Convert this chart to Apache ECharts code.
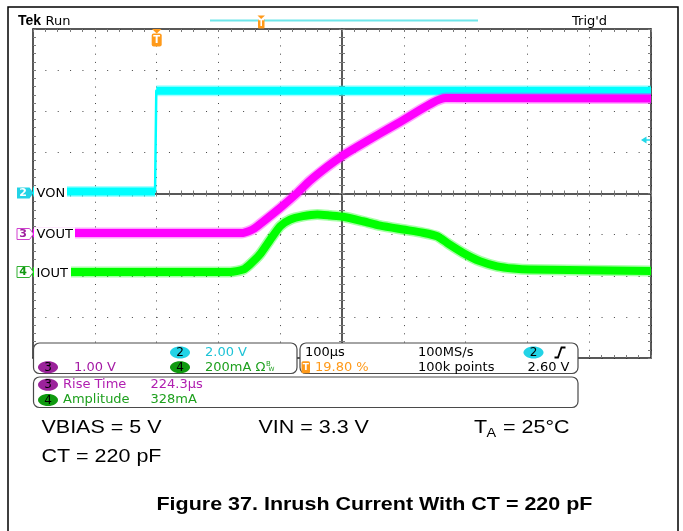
<!DOCTYPE html>
<html><head><meta charset="utf-8">
<script src="https://cdn.jsdelivr.net/npm/echarts@6/dist/echarts.min.js"></script>
<style>html,body{margin:0;padding:0;background:#fff}#c{width:683px;height:531px}</style>
</head><body><div id="c"></div>
<script>
// ---------------- data ----------------
const timePerDiv = 100;      // µs / div
const triggerPct = 19.8;     // trigger position, % of record (10 div)
// CH2  VON (V)
const vonTime  = [-198, -0.5, 1.5, 802];
const vonVolts = [0.1, 0.1, 5.0, 5.0];
// CH3  VOUT (V)
const voutTime  = [-198, 140, 152, 161, 174, 202, 228, 250, 278, 302, 326, 359, 396, 428, 449, 461, 470, 802];
const voutVolts = [0, 0, 0.05, 0.12, 0.27, 0.61, 0.95, 1.27, 1.61, 1.87, 2.09, 2.38, 2.70, 2.99, 3.17, 3.25, 3.28, 3.27];
// CH4  IOUT (mA)
const ioutTime = [-198, 121, 142, 153, 169, 186, 202, 218, 239, 262, 283, 304, 336, 364, 401, 433, 456, 472, 498, 525, 553, 579, 606, 802];
const ioutmA   = [0, 0, 12, 37, 85, 158, 223, 255, 272, 280, 275, 269, 247, 226, 207, 191, 174, 142, 93, 53, 28, 17, 12, 5];
// channel vertical scale (units / div) and position (div)
const chScale = { von: 2, vout: 1, iout: 200 };
const chPos   = { von: 0, vout: -0.96, iout: -1.91 };
// readouts
const readouts = { ch2: '2.00 V', ch3: '1.00 V', ch4: '200mA', tb: '100µs', trig: '19.80 %',
  rate: '100MS/s', pts: '100k points', level: '2.60 V', rise: '224.3µs', amp: '328mA' };

// ---------------- helpers ----------------
const toDiv = t => t / timePerDiv + triggerPct / 10;
const mk = (ts, vs, ch) => ts.map((t, i) => [toDiv(t), vs[i] / chScale[ch] + chPos[ch]]);
const vonData = mk(vonTime, vonVolts, 'von');
const voutData = mk(voutTime, voutVolts, 'vout');
const ioutData = mk(ioutTime, ioutmA, 'iout');
// noisy band is not drawn on the very steep step edge
function bandOf(d) {
  const out = [d[0]];
  for (let i = 1; i < d.length; i++) {
    if (Math.abs(d[i][1] - d[i - 1][1]) > 1 && (d[i][0] - d[i - 1][0]) < 0.05) out.push(null);
    out.push(d[i]);
  }
  return out;
}
function ls(data, color, width, opacity, z, smooth) {
  return { type: 'line', data, xAxisIndex: 0, yAxisIndex: 0, showSymbol: false, symbol: 'none',
    silent: true, animation: false, connectNulls: false, z,
    smooth: smooth || false,
    lineStyle: { color, width, opacity, cap: 'butt', join: 'round' } };
}

const tickStyle = { color: '#7a7a7a', width: 1 };
const lineCol = '#222';
function ax(dim, position, offset, inside, showLine, split) {
  const isX = dim === 'x';
  return {
    type: 'value', min: isX ? 0 : -4, max: isX ? 10 : 4, interval: 1,
    position, offset,
    axisLine: { show: showLine, onZero: false, lineStyle: { color: lineCol, width: 1.5 } },
    axisTick: { show: true, inside, length: 3, lineStyle: tickStyle },
    minorTick: { show: true, splitNumber: 5, length: 3, lineStyle: tickStyle },
    axisLabel: { show: false },
    splitLine: split ? { show: true, lineStyle: { color: '#444', width: 1, type: isX ? [1, 7.225] : [1, 11.36] } } : { show: false },
    minorSplitLine: { show: false },
    axisPointer: { show: false }
  };
}

const SF = '"DejaVu Sans", sans-serif';
function T(x, y, s, fill, o) {
  o = o || {};
  return { type: 'text', x, y, z: 120, silent: true, scaleX: o.sx || 1,
    style: { text: s, fill, font: (o.w || 'normal') + ' ' + (o.size || 13) + 'px ' + (o.fam || SF),
      align: o.align || 'left', verticalAlign: 'middle' } };
}
function badge(cx, cy, num, fill, tcol) {
  return [
    { type: 'ellipse', z: 115, silent: true, shape: { cx, cy, rx: 10, ry: 6 }, style: { fill } },
    T(cx, cy + 0.5, num, tcol || '#000', { align: 'center', size: 12 })
  ];
}
function box(x, y, w, h) {
  return { type: 'rect', z: 110, silent: true, shape: { x, y, width: w, height: h, r: 6 },
    style: { fill: '#fff', stroke: '#4a4a4a', lineWidth: 1.2 } };
}
function tag(cy, num, fill, stroke, tcol) {
  return [
    { type: 'polygon', z: 115, silent: true,
      shape: { points: [[17, cy - 5.5], [29.5, cy - 5.5], [33.5, cy], [29.5, cy + 5.5], [17, cy + 5.5]] },
      style: { fill, stroke: stroke || null, lineWidth: 1 } },
    T(23, cy + 0.5, num, tcol, { align: 'center', size: 11, w: 'bold' })
  ];
}
function labelBg(x, cy, w) {
  return { type: 'rect', z: 112, silent: true, shape: { x, y: cy - 7, width: w, height: 14 }, style: { fill: '#fff' } };
}

const orange = '#ff9a1a';
const BF = '"Liberation Sans", Arial, sans-serif';
const SX = 1.155;

const graphic = [
  // outer frame
  { type: 'rect', z: 5, silent: true, shape: { x: 8, y: 7, width: 670, height: 600 }, style: { fill: null, stroke: '#000', lineWidth: 1.5 } },
  // header
  T(18, 21.5, 'Tek', '#000', { w: 'bold', size: 14, fam: BF }),
  T(45.5, 21.5, 'Run', '#000'),
  T(572, 21.5, "Trig'd", '#000'),
  { type: 'line', z: 110, silent: true, shape: { x1: 210, y1: 20.5, x2: 478, y2: 20.5 }, style: { stroke: '#6fe6ea', lineWidth: 2 } },
  { type: 'polygon', z: 115, silent: true, shape: { points: [[257.5, 15.5], [265, 15.5], [261.2, 19]] }, style: { fill: orange } },
  { type: 'rect', z: 115, silent: true, shape: { x: 258, y: 19, width: 6.5, height: 9.5, r: 1 }, style: { fill: orange } },
  T(261.3, 24, 'T', '#fff', { align: 'center', size: 8, w: 'bold' }),
  // trigger position marker in graticule
  { type: 'polygon', z: 115, silent: true, shape: { points: [[152, 29], [161.5, 29], [156.7, 33.5]] }, style: { fill: orange } },
  { type: 'rect', z: 115, silent: true, shape: { x: 151.7, y: 33.5, width: 10, height: 13, r: 2 }, style: { fill: orange } },
  T(156.7, 40.5, 'T', '#fff', { align: 'center', size: 10, w: 'bold' }),
  // trigger level arrow (right)
  { type: 'polygon', z: 115, silent: true, shape: { points: [[641, 140], [646.5, 136.5], [646.5, 143.5]] }, style: { fill: '#22d8e8' } },
  { type: 'line', z: 115, silent: true, shape: { x1: 646, y1: 140, x2: 650, y2: 140 }, style: { stroke: '#22d8e8', lineWidth: 1.5 } },
  // channel tags & labels
  labelBg(34, 193, 33), labelBg(34, 234.5, 41), labelBg(34, 273, 37),
  ...tag(193, '2', '#22d3e6', null, '#fff'),
  ...tag(234, '3', '#fff', '#d040d0', '#a020a0'),
  ...tag(272, '4', '#fff', '#30b030', '#119911'),
  T(36.5, 193.5, 'VON', '#000'),
  T(36.5, 235, 'VOUT', '#000'),
  T(36.5, 273.3, 'IOUT', '#000'),
  // readout boxes
  box(33.5, 343, 263.5, 30.5),
  box(300, 343, 278, 30.5),
  box(33.5, 377, 544.5, 30.5),
  ...badge(180, 352.5, '2', '#22d3e6'),
  T(205, 352.5, readouts.ch2, '#1ec3d6'),
  ...badge(48, 367.3, '3', '#9b229b'),
  T(74, 367.3, readouts.ch3, '#a41aa4'),
  ...badge(180, 367.3, '4', '#109a10'),
  T(205, 367.3, readouts.ch4 + ' Ω', '#1ea01e'),
  T(266, 364, 'B', '#1ea01e', { size: 7 }),
  T(268.5, 369.5, 'W', '#1ea01e', { size: 6 }),
  T(305, 352.5, readouts.tb, '#000'),
  { type: 'rect', z: 115, silent: true, shape: { x: 301.5, y: 361.3, width: 8.5, height: 12, r: 1.5 }, style: { fill: orange } },
  T(305.8, 367.5, 'T', '#fff', { align: 'center', size: 9, w: 'bold' }),
  T(315, 367.3, readouts.trig, orange),
  T(418, 352.5, readouts.rate, '#000'),
  T(418, 367.3, readouts.pts, '#000'),
  ...badge(533.5, 352.5, '2', '#22d3e6'),
  { type: 'polyline', z: 115, silent: true, shape: { points: [[554.5, 357.5], [558, 357.5], [561.5, 347.5], [565.5, 347.5]] }, style: { stroke: '#000', lineWidth: 1.8, fill: null } },
  T(569.5, 367.3, readouts.level, '#000', { align: 'right' }),
  ...badge(48, 384.8, '3', '#9b229b'),
  T(63, 384.8, 'Rise Time', '#b01eb0'),
  T(150.5, 384.8, readouts.rise, '#b01eb0'),
  ...badge(48, 400, '4', '#109a10'),
  T(63, 400, 'Amplitude', '#1ea01e'),
  T(150.5, 400, readouts.amp, '#1ea01e'),
  // conditions & caption
  T(41.5, 427.5, 'VBIAS = 5 V', '#000', { size: 18.6, fam: BF, sx: SX }),
  T(258.5, 427.5, 'VIN = 3.3 V', '#000', { size: 18.6, fam: BF, sx: SX }),
  T(474, 427.5, 'T', '#000', { size: 18.6, fam: BF, sx: SX }),
  T(486.5, 433.5, 'A', '#000', { size: 12.5, fam: BF, sx: SX }),
  T(503, 427.5, '= 25°C', '#000', { size: 18.6, fam: BF, sx: SX }),
  T(41.5, 457, 'CT = 220 pF', '#000', { size: 18.6, fam: BF, sx: SX }),
  T(156.5, 505, 'Figure 37. Inrush Current With CT = 220 pF', '#000', { size: 18.6, fam: BF, sx: SX, w: 'bold' })
];

const option = {
  animation: false,
  backgroundColor: '#fff',
  grid: { left: 33, top: 29, width: 618, height: 329, show: false, outerBoundsMode: 'none' },
  xAxis: [
    ax('x', 'bottom', 0, true, true, true),
    ax('x', 'top', 0, true, true, false),
    ax('x', 'bottom', -164.5, true, true, false),
    ax('x', 'bottom', -164.5, false, false, false)
  ],
  yAxis: [
    ax('y', 'left', 0, true, true, true),
    ax('y', 'right', 0, true, true, false),
    ax('y', 'left', -309, true, true, false),
    ax('y', 'left', -309, false, false, false)
  ],
  series: [
    ls(vonData, '#00ffff', 2.5, 1, 3),
    ls(bandOf(vonData), '#00ffff', 11, 0.35, 3),
    ls(bandOf(vonData), '#00ffff', 8, 1, 4),
    ls(voutData, '#ff00ff', 11, 0.35, 5, 0.2),
    ls(voutData, '#ff00ff', 8, 1, 6, 0.2),
    ls(ioutData, '#00ff00', 11, 0.35, 7, 0.2),
    ls(ioutData, '#00ff00', 8, 1, 8, 0.2)
  ],
  graphic: { elements: graphic }
};
const chart = echarts.init(document.getElementById('c'), null, { renderer: 'canvas' });
chart.setOption(option);
</script></body></html>
